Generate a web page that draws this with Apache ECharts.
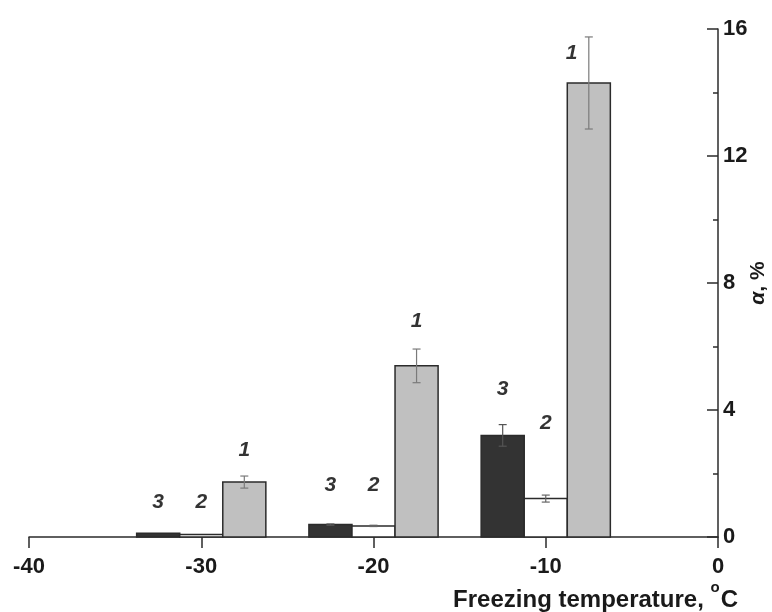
<!DOCTYPE html>
<html>
<head>
<meta charset="utf-8">
<script src="https://cdn.jsdelivr.net/npm/echarts@6/dist/echarts.min.js"></script>
<style>
  html, body { margin: 0; padding: 0; background: #ffffff; }
  #chart { width: 772px; height: 612px; }
</style>
</head>
<body>
<div id="chart"></div>
<script>
// Fraction alpha (%) vs freezing temperature, three samples per temperature.

// bar centres (°C), heights (%) and error half-widths, one set per sample
const s3X   = [-32.5, -22.5, -12.5];
const s3Val = [0.12, 0.39, 3.2];
const s3Err = [0, 0.02, 0.34];

const s2X   = [-30, -20, -10];
const s2Val = [0.08, 0.35, 1.21];
const s2Err = [0, 0.02, 0.11];

const s1X   = [-27.5, -17.5, -7.5];
const s1Val = [1.73, 5.39, 14.3];
const s1Err = [0.19, 0.53, 1.45];

// curve-number annotations placed in data space: [x, y, text]
const tags = [
    [-32.5, 1.1, '3'], [-30, 1.1, '2'], [-27.5, 2.73, '1'],
    [-22.5, 1.63, '3'], [-20, 1.63, '2'], [-17.5, 6.8, '1'],
    [-12.5, 4.65, '3'], [-10, 3.59, '2'], [-8.5, 15.23, '1']
];

const xTicks = [-40, -30, -20, -10, 0];
const yTicks = [0, 4, 8, 12, 16];

const BAR_W = 2.5;   // bar width in °C units
const FONT = 'Liberation Sans, Arial, sans-serif';

function zip(xs, vs, es) {
    return xs.map((x, i) => [x, vs[i], es[i]]);
}

function barRenderer(fill, errColor) {
    return function (params, api) {
        const x = api.value(0), v = api.value(1), e = api.value(2);
        const a = api.coord([x - BAR_W / 2, v]);
        const b = api.coord([x + BAR_W / 2, 0]);
        const children = [{
            type: 'rect',
            shape: { x: a[0], y: a[1], width: b[0] - a[0], height: b[1] - a[1] },
            style: { fill: fill, stroke: '#2b2b2b', lineWidth: 1.5 }
        }];
        if (e > 0) {
            const top = api.coord([x, v + e]);
            const bot = api.coord([x, v - e]);
            const cap = 4;
            const st = { stroke: errColor, lineWidth: 1.2 };
            children.push(
                { type: 'line', shape: { x1: top[0], y1: top[1], x2: bot[0], y2: bot[1] }, style: st },
                { type: 'line', shape: { x1: top[0] - cap, y1: top[1], x2: top[0] + cap, y2: top[1] }, style: st },
                { type: 'line', shape: { x1: bot[0] - cap, y1: bot[1], x2: bot[0] + cap, y2: bot[1] }, style: st }
            );
        }
        return { type: 'group', children: children };
    };
}

const chart = echarts.init(document.getElementById('chart'), null, { renderer: 'canvas' });

chart.setOption({
    animation: false,
    backgroundColor: '#ffffff',
    title: {
        text: 'Freezing temperature, {sup|o}C',
        right: 34,
        top: 580,
        padding: 0,
        textStyle: {
            fontFamily: FONT, fontSize: 24, fontWeight: 'bold', color: '#1a1a1a', lineHeight: 40,
            rich: {
                sup: { fontFamily: FONT, fontSize: 15, fontWeight: 'bold', color: '#1a1a1a', verticalAlign: 'top', lineHeight: 12, padding: [0, 1, 0, 0] }
            }
        }
    },
    grid: { left: 29, right: 54, top: 29, bottom: 75, containLabel: false, outerBoundsMode: 'none' },
    xAxis: {
        type: 'value',
        min: xTicks[0],
        max: xTicks[xTicks.length - 1],
        interval: 10,
        splitLine: { show: false },
        axisLine: { onZero: false, lineStyle: { color: '#2b2b2b', width: 1.5 } },
        axisTick: { inside: false, length: 11, lineStyle: { color: '#2b2b2b', width: 1.5 } },
        axisLabel: { fontFamily: FONT, fontSize: 22, fontWeight: 'bold', color: '#1a1a1a', margin: 19 }
    },
    yAxis: {
        type: 'value',
        position: 'right',
        min: yTicks[0],
        max: yTicks[yTicks.length - 1],
        interval: 4,
        name: '{a|α}, %',
        nameLocation: 'middle',
        nameGap: 30,
        nameRotate: 90,
        nameMoveOverlap: false,
        nameTextStyle: {
            fontFamily: FONT, fontSize: 21, fontWeight: 'bold', color: '#1a1a1a',
            rich: { a: { fontFamily: FONT, fontSize: 21, fontWeight: 'bold', fontStyle: 'italic', color: '#1a1a1a' } }
        },
        splitLine: { show: false },
        axisLine: { show: true, lineStyle: { color: '#2b2b2b', width: 1.5 } },
        axisTick: { inside: true, length: 11, lineStyle: { color: '#2b2b2b', width: 1.5 } },
        minorTick: { show: true, splitNumber: 2, length: 5, lineStyle: { color: '#2b2b2b', width: 1.5 } },
        axisLabel: { fontFamily: FONT, fontSize: 22, fontWeight: 'bold', color: '#1a1a1a', margin: 5 }
    },
    series: [
        {
            type: 'custom', name: '3',
            renderItem: barRenderer('#333333', '#555555'),
            data: zip(s3X, s3Val, s3Err), z: 2
        },
        {
            type: 'custom', name: '2',
            renderItem: barRenderer('#ffffff', '#666666'),
            data: zip(s2X, s2Val, s2Err), z: 2
        },
        {
            type: 'custom', name: '1',
            renderItem: barRenderer('#c0c0c0', '#7a7a7a'),
            data: zip(s1X, s1Val, s1Err), z: 2
        },
        {
            type: 'scatter',
            symbolSize: 0,
            silent: true,
            data: tags.map(t => ({ value: [t[0], t[1]], name: t[2] })),
            label: {
                show: true,
                position: 'inside',
                formatter: p => p.name,
                fontFamily: FONT, fontSize: 21, fontWeight: 'bold', fontStyle: 'italic', color: '#000000'
            },
            z: 3
        }
    ]
});
</script>
</body>
</html>
